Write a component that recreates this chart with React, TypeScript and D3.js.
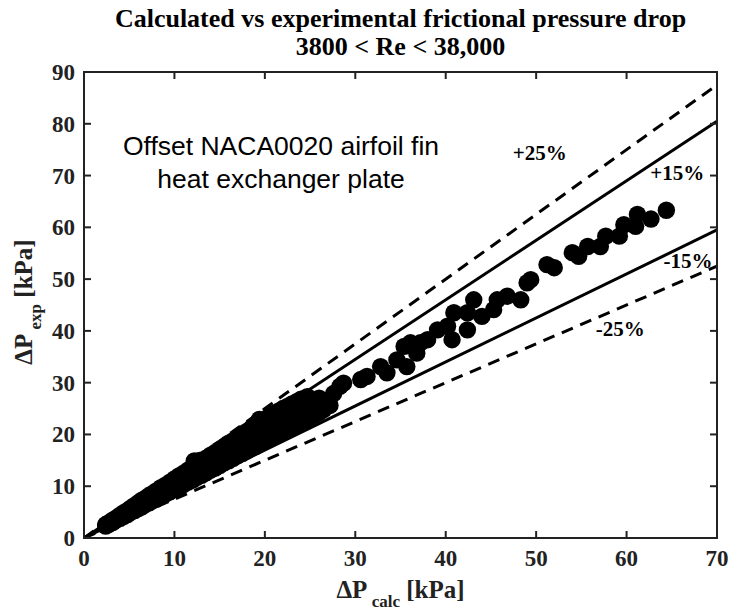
import React from "react";
import * as d3 from "d3";

const titleLines = ["Calculated vs experimental frictional pressure drop", "3800 < Re < 38,000"];
const annotationLines = ["Offset NACA0020 airfoil fin", "heat exchanger plate"];
const xTicks = [0, 10, 20, 30, 40, 50, 60, 70];
const yTicks = [0, 10, 20, 30, 40, 50, 60, 70, 80, 90];

// reference bands: factor, dashed?, label, label position (data coords)
const bandFactors = [1.25, 1.15, 0.85, 0.75];
const bandDashed = [true, false, false, true];
const bandLabels = ["+25%", "+15%", "-15%", "-25%"];
const bandLabelX = [50.4, 65.6, 66.8, 59.3];
const bandLabelY = [73.0, 69.1, 52.1, 39.0];

const calcValues = [
  2.4, 2.4, 2.8, 2.8, 3.2, 3.2, 3.6, 3.6, 4.0, 4.0, 4.4, 4.4, 4.8, 4.8, 5.2, 5.2, 5.6, 5.6, 6.0, 6.0,
  6.4, 6.4, 6.8, 6.8, 6.9, 7.2, 7.2, 7.6, 7.6, 7.7, 8.0, 8.0, 8.1, 8.5, 8.5, 8.4, 9.0, 9.0, 9.1, 9.5,
  9.5, 9.4, 10.0, 10.0, 10.1, 10.5, 10.5, 10.4, 11.0, 11.0, 11.1, 11.5, 11.5, 11.4, 12.0, 12.0, 12.1, 12.2, 12.5, 12.5,
  12.6, 12.8, 13.0, 13.0, 13.1, 13.5, 13.5, 13.4, 14.0, 14.0, 14.1, 14.5, 14.5, 14.4, 15.0, 15.0, 15.1, 15.5, 15.5, 15.4,
  16.0, 16.0, 16.1, 16.5, 16.5, 16.4, 17.0, 17.0, 17.1, 17.5, 17.5, 17.4, 18.0, 18.0, 18.1, 18.5, 18.5, 18.4, 19.0, 19.0,
  19.1, 19.4, 19.5, 19.5, 19.6, 20.0, 20.0, 20.1, 20.5, 20.5, 20.4, 21.0, 21.0, 21.1, 21.5, 21.5, 21.4, 22.0, 22.0, 22.1,
  22.5, 22.5, 22.4, 23.0, 23.0, 23.1, 23.5, 23.5, 23.4, 24.0, 24.0, 24.1, 24.7, 24.5, 24.4, 25.0, 25.0, 25.8, 25.5, 26.0,
  26.0, 26.5, 26.4, 27.2, 27.6, 28.3, 28.7, 30.6, 31.3, 32.8, 33.5, 34.6, 35.7, 35.4, 36.1, 36.8, 37.2, 38.0, 39.1, 40.2,
  40.7, 40.9, 42.4, 42.4, 43.1, 44.0, 45.3, 45.7, 46.8, 48.3, 49.0, 49.4, 51.2, 52.0, 54.0, 54.7, 55.7, 57.1, 57.7, 59.2,
  59.7, 61.0, 61.2, 62.7, 64.4,
];
const expValues = [
  2.3, 2.6, 2.7, 3.0, 3.0, 3.5, 3.5, 3.9, 3.8, 4.4, 4.2, 4.9, 4.5, 5.3, 5.0, 5.8, 5.3, 6.3, 5.7, 6.8,
  6.0, 7.3, 6.5, 7.7, 7.0, 6.8, 8.2, 7.2, 8.6, 7.9, 7.5, 9.1, 8.3, 8.0, 9.7, 8.8, 8.5, 10.2, 9.4, 8.9,
  10.8, 9.9, 9.4, 11.4, 10.4, 9.8, 12.0, 11.0, 10.3, 12.5, 11.4, 10.8, 13.1, 11.9, 11.2, 13.8, 12.5, 14.9, 11.7, 14.3,
  13.1, 15.0, 12.1, 14.9, 13.6, 12.6, 15.4, 14.0, 13.1, 16.0, 14.6, 13.5, 16.5, 15.1, 14.0, 17.1, 15.6, 14.5, 17.6, 16.1,
  14.9, 18.3, 16.6, 15.4, 18.8, 17.2, 15.9, 19.4, 17.7, 16.3, 20.0, 18.2, 16.8, 20.6, 18.8, 17.3, 21.2, 19.3, 17.7, 21.8,
  19.8, 22.9, 18.2, 22.4, 20.3, 18.7, 22.9, 20.9, 19.1, 23.5, 21.4, 19.6, 24.0, 21.9, 20.1, 24.5, 22.4, 20.5, 25.0, 22.9,
  21.0, 25.4, 23.5, 21.4, 25.9, 24.0, 21.9, 26.3, 24.4, 22.4, 26.8, 25.0, 27.3, 22.8, 25.5, 23.3, 26.0, 26.7, 23.8, 24.2,
  27.0, 24.8, 26.6, 25.6, 27.9, 29.3, 29.9, 30.6, 31.2, 33.1, 31.9, 34.4, 33.1, 37.0, 37.7, 35.7, 37.7, 38.3, 40.2, 40.9,
  38.3, 43.5, 40.2, 43.5, 46.0, 42.8, 44.1, 46.0, 46.7, 46.0, 49.3, 49.9, 52.8, 52.2, 55.1, 54.4, 56.3, 56.3, 58.3, 58.3,
  60.5, 60.2, 62.5, 61.6, 63.3,
];

const W = 730;
const H = 612;
const M = { left: 84, right: 717, top: 72, bottom: 538 };
const serif = "'Liberation Serif', 'Times New Roman', serif";
const sans = "'Liberation Sans', Arial, sans-serif";

export default function App() {
  const x = d3.scaleLinear().domain([0, 70]).range([M.left, M.right]);
  const y = d3.scaleLinear().domain([0, 90]).range([M.bottom, M.top]);
  const line = d3.line<[number, number]>().x((d) => x(d[0])).y((d) => y(d[1]));
  const cx = (M.left + M.right) / 2;

  return (
    <svg width={W} height={H} style={{ position: "absolute", left: 0, top: 0, background: "#fff" }}>
      <defs>
        <clipPath id="plotclip">
          <rect x={M.left} y={M.top} width={M.right - M.left} height={M.bottom - M.top} />
        </clipPath>
      </defs>
      <rect x={0} y={0} width={W} height={H} fill="#fff" />
      {/* data */}
      <g clipPath="url(#plotclip)">
        {calcValues.map((v, i) => (
          <circle key={i} cx={x(v)} cy={y(expValues[i])} r={8.7} fill="#000" />
        ))}
        {bandFactors.map((f, i) => (
          <path
            key={i}
            d={line([[0, 0], [70, 70 * f]]) || ""}
            fill="none"
            stroke="#000"
            strokeWidth={3}
            strokeDasharray={bandDashed[i] ? "12 8" : undefined}
          />
        ))}
      </g>
      {bandLabels.map((t, i) => (
        <text
          key={i}
          x={x(bandLabelX[i])}
          y={y(bandLabelY[i])}
          fontFamily={serif}
          fontWeight="bold"
          fontSize={21}
          textAnchor="middle"
          fill="#000"
        >
          {t}
        </text>
      ))}
      {/* axes box */}
      <rect
        x={M.left}
        y={M.top}
        width={M.right - M.left}
        height={M.bottom - M.top}
        fill="none"
        stroke="#222"
        strokeWidth={2}
      />
      {xTicks.map((t) => (
        <g key={"x" + t}>
          <line x1={x(t)} x2={x(t)} y1={M.bottom} y2={M.bottom - 7} stroke="#222" strokeWidth={2} />
          <line x1={x(t)} x2={x(t)} y1={M.top} y2={M.top + 7} stroke="#222" strokeWidth={2} />
          <text x={x(t)} y={M.bottom + 28} textAnchor="middle" fontFamily={serif} fontWeight="bold" fontSize={23} fill="#222">
            {t}
          </text>
        </g>
      ))}
      {yTicks.map((t) => (
        <g key={"y" + t}>
          <line x1={M.left} x2={M.left + 7} y1={y(t)} y2={y(t)} stroke="#222" strokeWidth={2} />
          <line x1={M.right} x2={M.right - 7} y1={y(t)} y2={y(t)} stroke="#222" strokeWidth={2} />
          <text x={M.left - 9} y={y(t) + 8} textAnchor="end" fontFamily={serif} fontWeight="bold" fontSize={23} fill="#222">
            {t}
          </text>
        </g>
      ))}
      {/* title */}
      {titleLines.map((t, i) => (
        <text key={i} x={cx} y={27 + i * 28} textAnchor="middle" fontFamily={serif} fontWeight="bold" fontSize={26} fill="#000">
          {t}
        </text>
      ))}
      {/* annotation */}
      {annotationLines.map((t, i) => (
        <text key={i} x={281} y={155 + i * 33} textAnchor="middle" fontFamily={sans} fontSize={26.5} fill="#000">
          {t}
        </text>
      ))}
      {/* x label */}
      <text x={cx} y={598} textAnchor="middle" fontFamily={serif} fontWeight="bold" fontSize={25} fill="#222">
        <tspan>ΔP</tspan>
        <tspan fontSize={17} dy={9}> calc</tspan>
        <tspan dy={-9}> [kPa]</tspan>
      </text>
      {/* y label */}
      <text
        transform={`translate(32, 302) rotate(-90)`}
        textAnchor="middle"
        fontFamily={serif}
        fontWeight="bold"
        fontSize={25}
        fill="#222"
      >
        <tspan>ΔP</tspan>
        <tspan fontSize={17} dy={9}> exp</tspan>
        <tspan dy={-9}> [kPa]</tspan>
      </text>
    </svg>
  );
}
